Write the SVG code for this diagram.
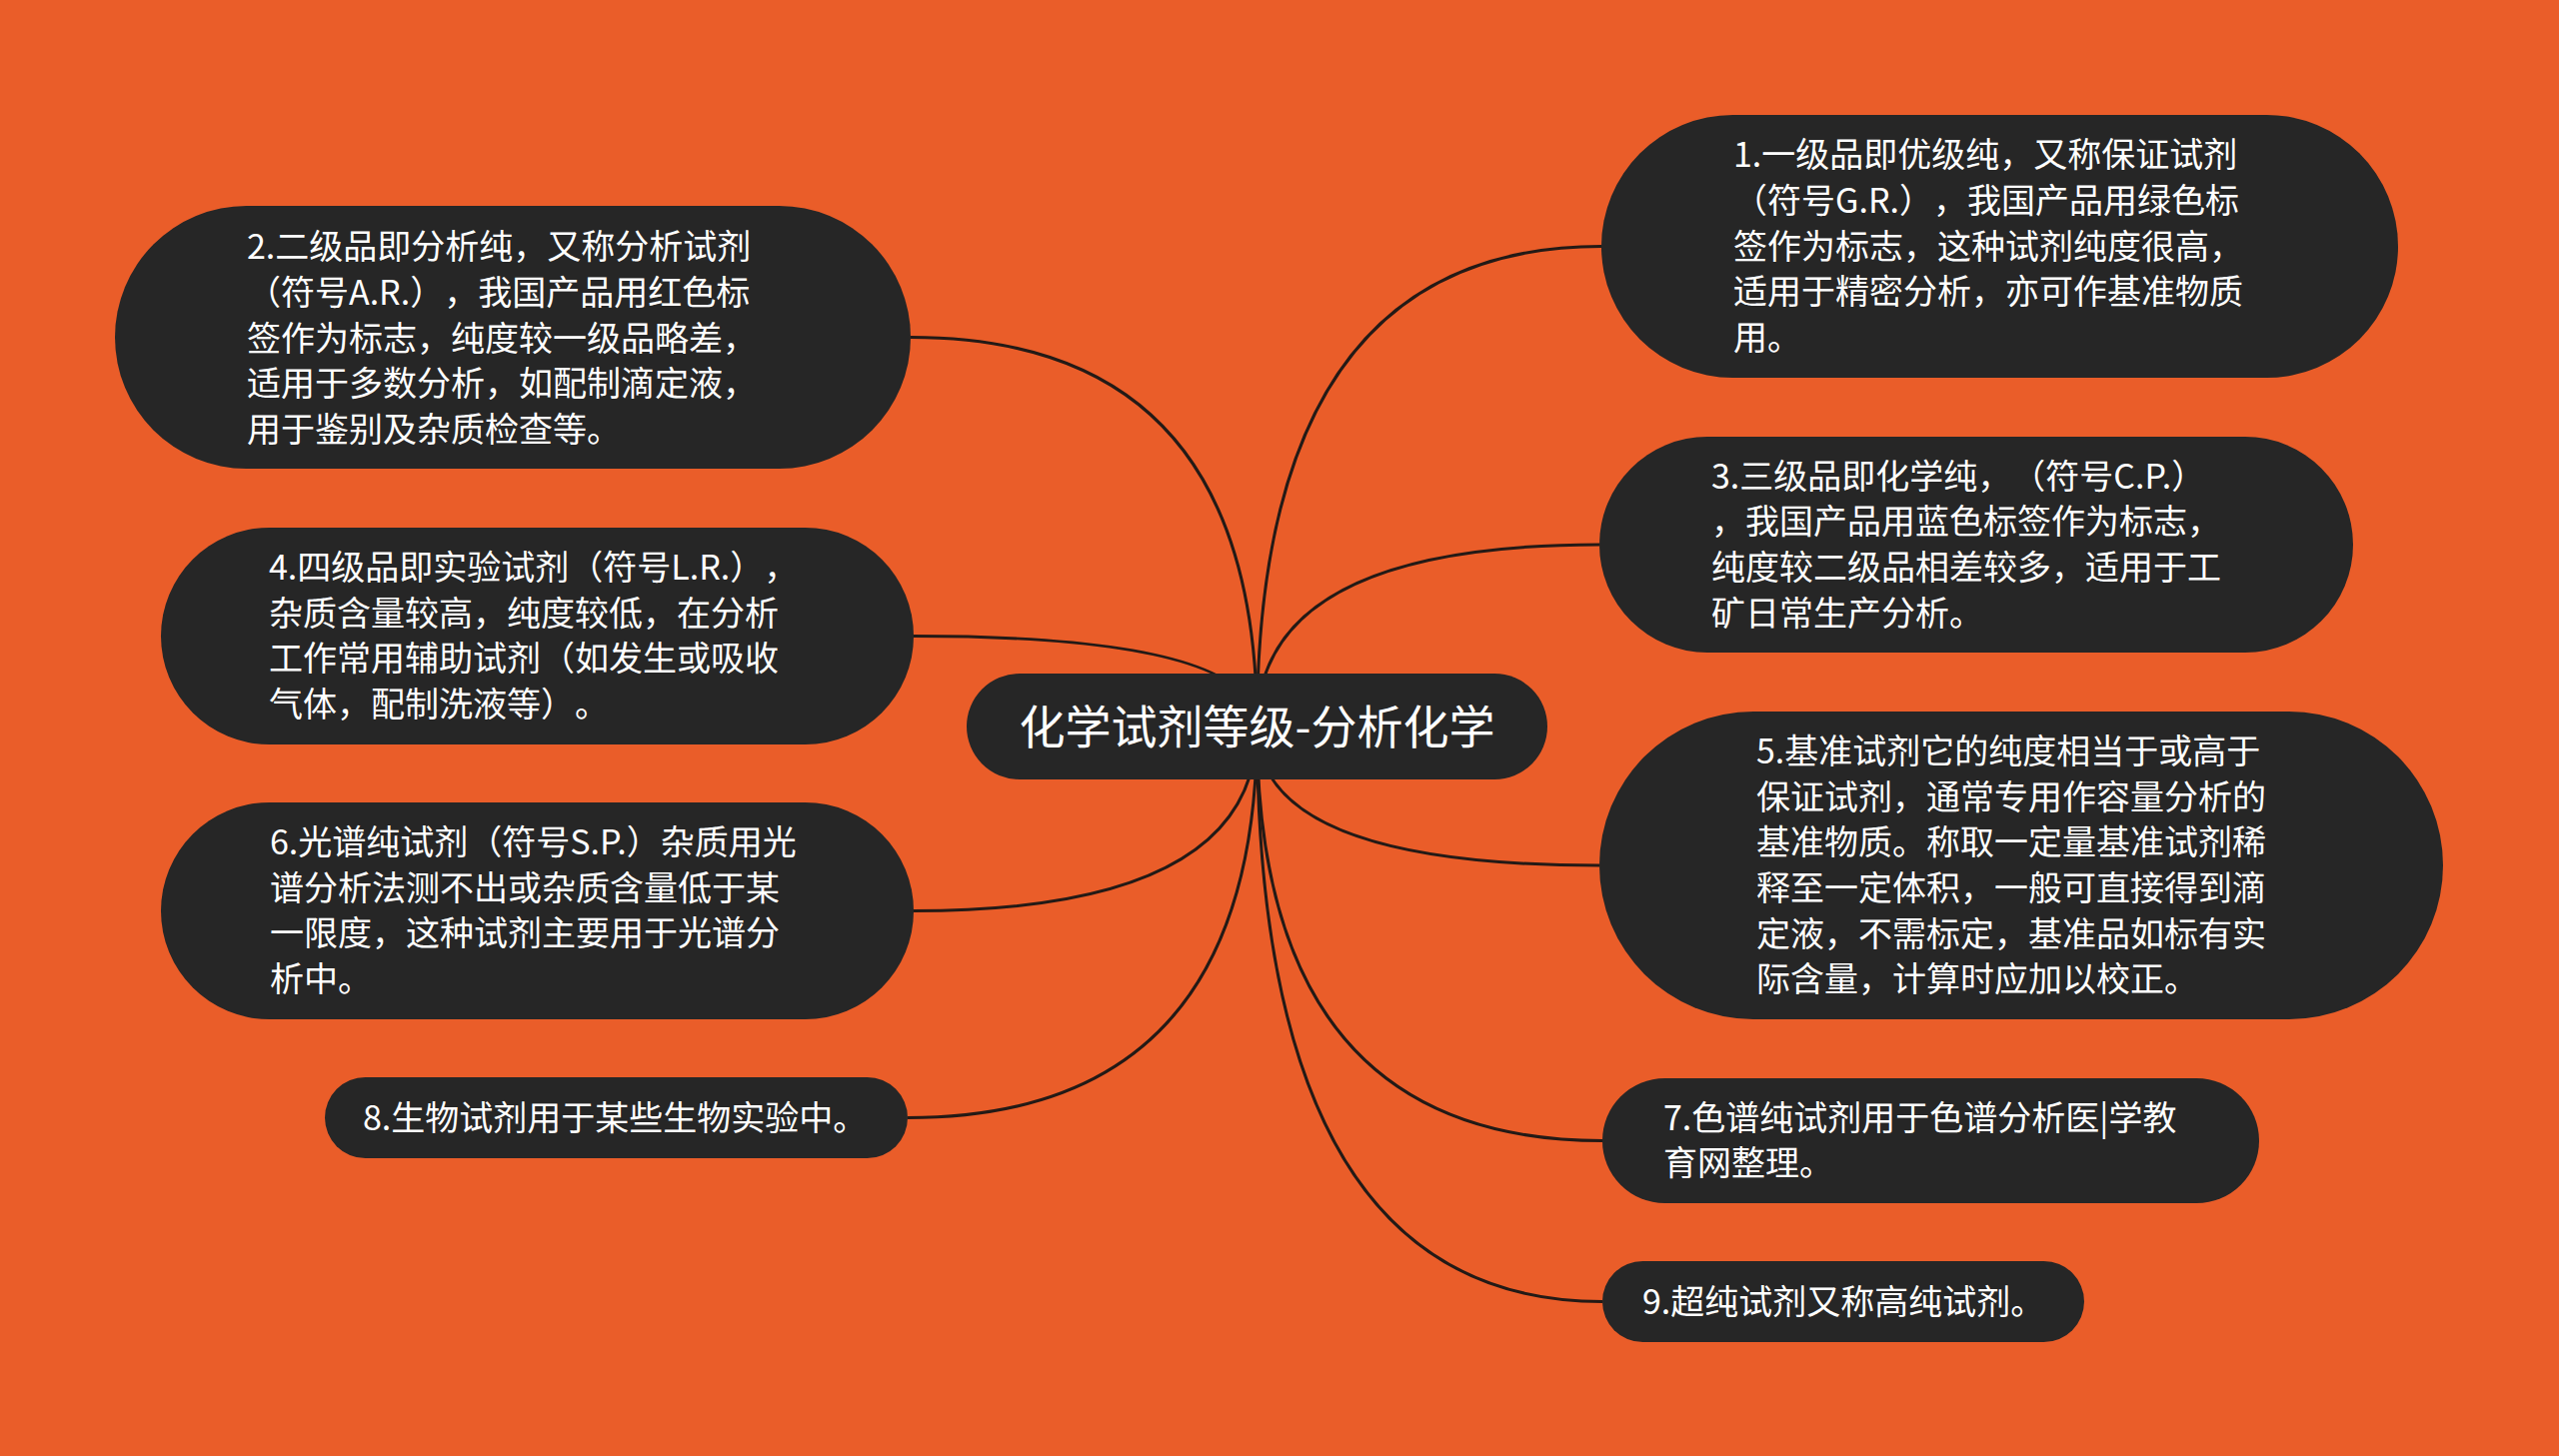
<svg xmlns="http://www.w3.org/2000/svg" width="2560" height="1457" viewBox="0 0 2560 1457">
<style>
.bg{fill:#EA5D29}
.node{fill:#262626}
.t{font-family:"Noto Sans CJK SC","Noto Sans",sans-serif;font-size:34px;fill:#ffffff;text-spacing-trim:space-all}
.tc{font-family:"Noto Sans CJK SC","Noto Sans",sans-serif;font-size:46px;fill:#ffffff;text-anchor:middle}
.edge{fill:none;stroke:#231a16;stroke-width:3}
</style>
<rect class="bg" x="0" y="0" width="2560" height="1457"/>
<g id="connectors">
<path class="edge" d="M1257.5 727 Q1257.5 246.5 1602 246.5"/>
<path class="edge" d="M1257.5 727 Q1257.5 337.5 911 337.5"/>
<path class="edge" d="M1257.5 727 Q1257.5 545 1600 545"/>
<path class="edge" d="M1257.5 727 Q1257.5 636.5 914 636.5"/>
<path class="edge" d="M1257.5 727 Q1257.5 866 1600 866"/>
<path class="edge" d="M1257.5 727 Q1257.5 911.5 914 911.5"/>
<path class="edge" d="M1257.5 727 Q1257.5 1141.5 1603 1141.5"/>
<path class="edge" d="M1257.5 727 Q1257.5 1118.5 908 1118.5"/>
<path class="edge" d="M1257.5 727 Q1257.5 1302.5 1603 1302.5"/>
</g>
<g id="center">
<rect class="node" x="967" y="674" width="581" height="106" rx="53"/>
<text class="tc" x="1257.5" y="743.5">化学试剂等级-分析化学</text>
</g>
<g id="node1">
<rect class="node" x="1602" y="115" width="797" height="263" rx="131.5"/>
<text class="t"><tspan x="1734" y="167">1.一级品即优级纯，又称保证试剂</tspan><tspan x="1734" y="213">（符号G.R.），我国产品用绿色标</tspan><tspan x="1734" y="258.5">签作为标志，这种试剂纯度很高，</tspan><tspan x="1734" y="304">适用于精密分析，亦可作基准物质</tspan><tspan x="1734" y="350">用。</tspan></text>
</g>
<g id="node2">
<rect class="node" x="115" y="206" width="796" height="263" rx="131.5"/>
<text class="t"><tspan x="247" y="259">2.二级品即分析纯，又称分析试剂</tspan><tspan x="247" y="305">（符号A.R.），我国产品用红色标</tspan><tspan x="247" y="350.5">签作为标志，纯度较一级品略差，</tspan><tspan x="247" y="396">适用于多数分析，如配制滴定液，</tspan><tspan x="247" y="442">用于鉴别及杂质检查等。</tspan></text>
</g>
<g id="node3">
<rect class="node" x="1600" y="437" width="754" height="216" rx="108"/>
<text class="t"><tspan x="1712" y="488.5">3.三级品即化学纯，（符号C.P.）</tspan><tspan x="1712" y="534">，我国产品用蓝色标签作为标志，</tspan><tspan x="1712" y="580">纯度较二级品相差较多，适用于工</tspan><tspan x="1712" y="625.5">矿日常生产分析。</tspan></text>
</g>
<g id="node4">
<rect class="node" x="161" y="528" width="753" height="217" rx="108.5"/>
<text class="t"><tspan x="269" y="580">4.四级品即实验试剂（符号L.R.），</tspan><tspan x="269" y="625.7">杂质含量较高，纯度较低，在分析</tspan><tspan x="269" y="671.4">工作常用辅助试剂（如发生或吸收</tspan><tspan x="269" y="717">气体，配制洗液等）。</tspan></text>
</g>
<g id="node5">
<rect class="node" x="1600" y="712" width="844" height="308" rx="154"/>
<text class="t"><tspan x="1757" y="764">5.基准试剂它的纯度相当于或高于</tspan><tspan x="1757" y="809.5">保证试剂，通常专用作容量分析的</tspan><tspan x="1757" y="855">基准物质。称取一定量基准试剂稀</tspan><tspan x="1757" y="901">释至一定体积，一般可直接得到滴</tspan><tspan x="1757" y="946.6">定液，不需标定，基准品如标有实</tspan><tspan x="1757" y="992.3">际含量，计算时应加以校正。</tspan></text>
</g>
<g id="node6">
<rect class="node" x="161" y="803" width="753" height="217" rx="108.5"/>
<text class="t"><tspan x="270" y="855">6.光谱纯试剂（符号S.P.）杂质用光</tspan><tspan x="270" y="900.7">谱分析法测不出或杂质含量低于某</tspan><tspan x="270" y="946.4">一限度，这种试剂主要用于光谱分</tspan><tspan x="270" y="992">析中。</tspan></text>
</g>
<g id="node7">
<rect class="node" x="1603" y="1079" width="657" height="125" rx="62.5"/>
<text class="t"><tspan x="1664" y="1130.7">7.色谱纯试剂用于色谱分析医|学教</tspan><tspan x="1664" y="1176.4">育网整理。</tspan></text>
</g>
<g id="node8">
<rect class="node" x="325" y="1078" width="583" height="81" rx="40.5"/>
<text class="t" x="363" y="1130.5">8.生物试剂用于某些生物实验中。</text>
</g>
<g id="node9">
<rect class="node" x="1603" y="1262" width="482" height="81" rx="40.5"/>
<text class="t" x="1643" y="1314.5">9.超纯试剂又称高纯试剂。</text>
</g>
</svg>
